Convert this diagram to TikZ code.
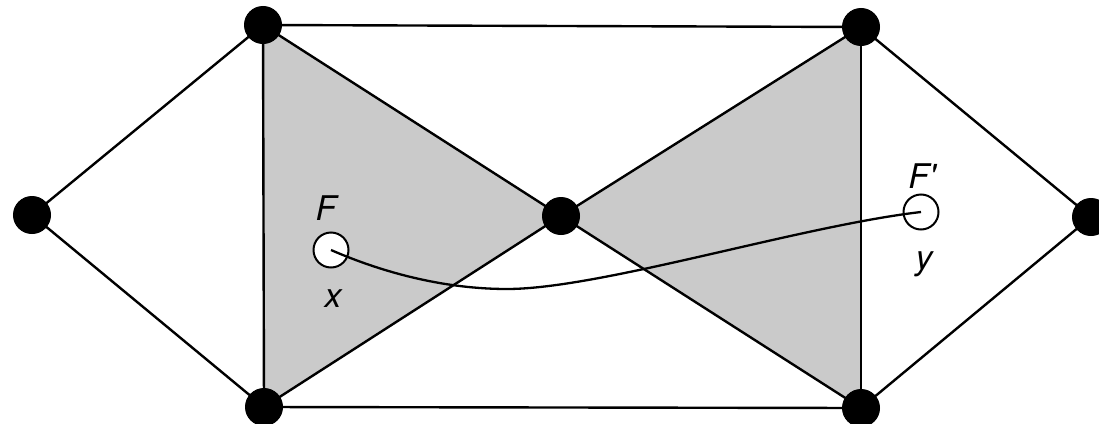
\documentclass[tikz,border=0pt]{standalone}
\usepackage{fontspec}
\setmainfont{TeX Gyre Heros}
\usetikzlibrary{backgrounds}
\definecolor{bowgray}{RGB}{202,202,202}
\tikzset{
  vtx/.style={circle,fill=black,draw=black,line width=1pt,minimum size=37pt,inner sep=0pt},
  opn/.style={circle,fill=white,draw=black,line width=2pt,minimum size=35pt,inner sep=0pt},
  edge/.style={line width=2.4pt,line join=round},
  lbl/.style={font=\fontsize{34}{34}\selectfont\itshape,inner sep=0pt},
  curveline/.style={line width=2.3pt}
}
\begin{document}
\begin{tikzpicture}[x=1pt,y=-1pt]
\useasboundingbox (0,0) rectangle (1099,423);
\node[vtx] (tl) at (263,25) {};
\node[vtx] (tr) at (861,27) {};
\node[vtx] (bl) at (264,407) {};
\node[vtx] (br) at (861,408) {};
\node[vtx] (l) at (32,215) {};
\node[vtx] (c) at (561,216) {};
\node[vtx] (r) at (1091,217) {};
\node[opn] (f) at (331,250) {};
\node[opn] (fp) at (921,212) {};
\coordinate (m) at (507,289);
\node[lbl] (lf) at (326,208) {F};
\node[lbl] (lx) at (333,299) {x};
\node[lbl] (lfp) at (922,176) {F\textquotesingle};
\node[lbl] (ly) at (924,264) {y};
\begin{scope}[on background layer]
  \fill[bowgray] (tl.center) -- (c.center) -- (bl.center) -- cycle;
  \fill[bowgray] (tr.center) -- (c.center) -- (br.center) -- cycle;
  \draw[edge] (tl.center) -- (tr.center);
  \draw[edge] (bl.center) -- (br.center);
  \draw[edge] (tl.center) -- (bl.center);
  \draw[edge] (tr.center) -- (br.center);
  \draw[edge] (tl.center) -- (c.center);
  \draw[edge] (bl.center) -- (c.center);
  \draw[edge] (tr.center) -- (c.center);
  \draw[edge] (br.center) -- (c.center);
  \draw[edge] (l.center) -- (tl.center);
  \draw[edge] (l.center) -- (bl.center);
  \draw[edge] (r.center) -- (tr.center);
  \draw[edge] (r.center) -- (br.center);
\end{scope}
\draw[curveline] (f.center) .. controls (386,274) and (447,289) .. (m)
  .. controls (600,289) and (800,226) .. (fp.center);
\end{tikzpicture}
\end{document}
